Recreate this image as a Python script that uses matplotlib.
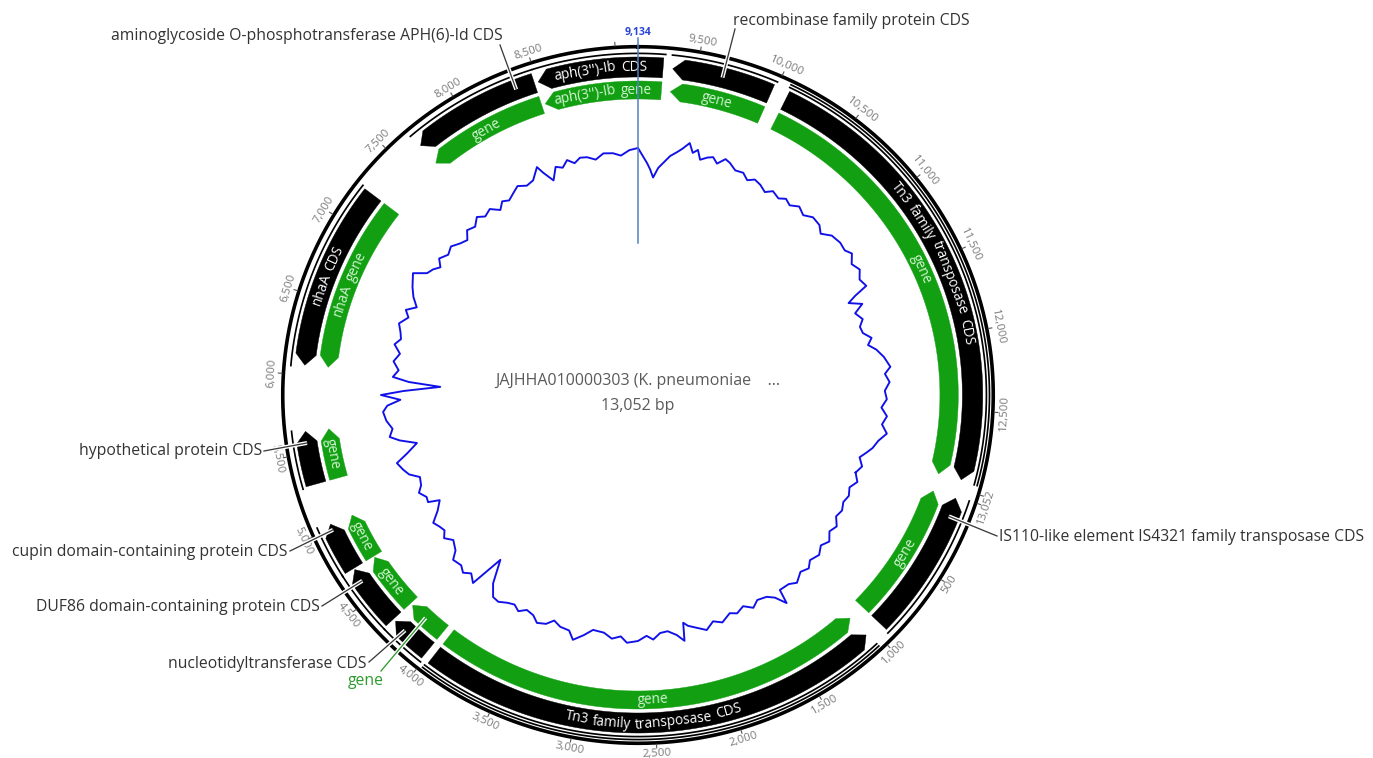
import numpy as np
import matplotlib
matplotlib.use("Agg")
import matplotlib.pyplot as plt
from matplotlib.patches import Polygon
from matplotlib.font_manager import FontProperties

# ---------------- data ----------------
SEQ_LEN = 13052
MARKER_POS = 9134
MAP_TITLE = "JAJHHA010000303 (K. pneumoniae    ..."
MAP_SUBTITLE = "13,052 bp"

cds_label = ["IS110-like element IS4321 family transposase CDS",
             "Tn3 family transposase CDS",
             "nucleotidyltransferase CDS",
             "DUF86 domain-containing protein CDS",
             "cupin domain-containing protein CDS",
             "hypothetical protein CDS",
             "nhaA CDS",
             "aminoglycoside O-phosphotransferase APH(6)-Id CDS",
             "aph(3'')-Ib CDS",
             "recombinase family protein CDS",
             "Tn3 family transposase CDS"]
cds_start = [10, 1050, 4018, 4310, 4715, 5300, 6060, 7665, 8505, 9350, 10080]
cds_end = [937, 3968, 4291, 4705, 5030, 5640, 7234, 8480, 9290, 9980, 12940]
cds_strand = [-1, -1, 1, 1, 1, 1, -1, -1, -1, -1, 1]
cds_inner_text = [None, "Tn3 family transposase CDS", None, None, None, None,
                  "nhaA CDS", None, "aph(3'')-Ib CDS", None, "Tn3 family transposase CDS"]
gene_inner_text = ["gene", "gene", None, "gene", "gene", "gene", "nhaA gene",
                   "gene", "aph(3'')-Ib gene", "gene", "gene"]
double_line_cds = [1, 10]

callout_text = ["aminoglycoside O-phosphotransferase APH(6)-Id CDS",
                "recombinase family protein CDS",
                "IS110-like element IS4321 family transposase CDS",
                "nucleotidyltransferase CDS",
                "gene",
                "DUF86 domain-containing protein CDS",
                "cupin domain-containing protein CDS",
                "hypothetical protein CDS"]
callout_pos = [8360, 9664, 132, 4208, 4169, 4620, 4991, 5566]
callout_track = ["cds", "cds", "cds", "cds", "gene", "cds", "cds", "cds"]

gc_pos = [9134, 9170, 9214, 9243, 9275, 9315, 9352, 9406, 9460, 9497,
          9547, 9587, 9623, 9660, 9714, 9758, 9805, 9859, 9903, 9968,
          10037, 10095, 10149, 10211, 10276, 10330, 10403, 10457, 10515, 10584,
          10657, 10729, 10813, 10874, 10947, 11037, 11110, 11164, 11237, 11309,
          11382, 11454, 11491, 11527, 11581, 11636, 11708, 11766, 11828, 11889,
          11944, 11998, 12071, 12161, 12216, 12288, 12361, 12433, 12506, 12578,
          12651, 12723, 12796, 12868, 12923, 12977, 13050, 70, 143, 215,
          288, 360, 433, 505, 578, 650, 723, 795, 868, 955,
          1013, 1085, 1169, 1230, 1321, 1339, 1393, 1448, 1531, 1593,
          1665, 1738, 1796, 1883, 1955, 2028, 2100, 2173, 2209, 2227,
          2282, 2354, 2419, 2481, 2536, 2608, 2699, 2753, 2826, 2898,
          2993, 3061, 3138, 3188, 3268, 3333, 3388, 3460, 3514, 3583,
          3641, 3696, 3754, 3823, 3881, 3950, 4033, 4084, 4149, 4203,
          4258, 4298, 4338, 4385, 4468, 4530, 4584, 4638, 4693, 4765,
          4841, 4874, 4921, 4983, 5037, 5110, 5164, 5219, 5288, 5345,
          5418, 5472, 5516, 5581, 5654, 5730, 5781, 5828, 5871, 5907,
          5958, 5991, 6027, 6089, 6161, 6234, 6306, 6361, 6415, 6487,
          6560, 6614, 6669, 6741, 6814, 6919, 6977, 7031, 7082, 7140,
          7213, 7285, 7358, 7423, 7485, 7557, 7626, 7684, 7756, 7825,
          7883, 7938, 8003, 8065, 8137, 8206, 8282, 8311, 8369, 8427,
          8482, 8536, 8590, 8645, 8703, 8772, 8844, 8924, 8989, 9062]
gc_val = [54.4, 53.0, 51.4, 50.2, 48.6, 50.6, 51.6, 53.2, 54.2, 55.0,
          56.4, 54.6, 55.4, 53.6, 54.4, 54.8, 53.8, 55.2, 54.8, 53.8,
          54.0, 53.0, 53.8, 53.4, 52.6, 53.6, 53.0, 53.8, 53.2, 54.2,
          53.4, 54.4, 54.2, 53.2, 54.6, 55.0, 54.8, 55.6, 54.4, 55.2,
          54.2, 54.8, 52.0, 50.2, 52.6, 50.6, 51.6, 50.6, 50.8, 52.2,
          51.2, 52.6, 53.8, 54.8, 53.6, 54.4, 53.4, 53.8, 52.8, 54.0,
          53.2, 54.4, 53.0, 52.2, 51.2, 50.2, 51.2, 50.4, 51.4, 50.4,
          51.0, 50.6, 51.2, 50.8, 52.0, 51.4, 52.6, 51.8, 52.8, 52.2,
          53.2, 52.6, 53.8, 53.0, 52.9, 55.8, 53.6, 52.6, 52.2, 53.2,
          52.0, 52.8, 52.2, 53.4, 52.6, 53.9, 53.0, 52.2, 51.4, 55.0,
          53.6, 52.6, 52.8, 54.0, 53.2, 54.2, 54.6, 53.4, 54.0, 53.0,
          52.8, 54.2, 55.6, 54.0, 53.8, 53.0, 54.2, 54.7, 53.6, 53.2,
          54.2, 53.4, 53.8, 54.6, 54.4, 52.2, 47.6, 54.6, 53.4, 54.4,
          53.6, 53.8, 54.0, 52.4, 51.4, 52.6, 51.6, 52.0, 52.6, 50.6,
          49.2, 51.4, 51.2, 52.2, 51.2, 50.8, 52.6, 53.4, 54.2, 51.8,
          49.4, 52.6, 54.4, 53.6, 54.6, 55.1, 54.2, 51.6, 55.4, 51.0,
          43.8, 50.0, 53.2, 52.2, 53.4, 52.4, 53.8, 52.8, 53.2, 54.0,
          52.6, 53.6, 51.8, 53.2, 54.2, 55.4, 53.0, 52.4, 51.4, 52.6,
          51.6, 52.2, 51.2, 50.6, 52.0, 51.4, 52.6, 51.6, 52.2, 50.8,
          52.0, 51.4, 52.2, 53.0, 52.2, 52.6, 54.7, 53.2, 51.0, 53.4,
          52.8, 54.0, 53.0, 53.8, 53.6, 52.8, 53.8, 53.6, 53.0, 54.0]
TICK_STEP = 500

# ---------------- layout / style ----------------
W, H = 1373, 758
CX, CY = 638, 395
SX = 1.02
R_BACKBONE = 348.3
R_THIN1 = 341.6
R_THIN2 = 344.6
R_CDS = (318.0, 338.0)
R_GENE = (296.0, 314.0)
GC_BASE_R, GC_MID, GC_SCALE = 240.0, 53.0, 5.0
HEAD_PX = 11.0
CDS_COLOR = "#000000"
GENE_COLOR = "#12a012"
GC_COLOR = "#1010e8"
FONT = "Open Sans"

callout_xy = [(503, 36), (733, 21), (999, 537), (367, 664), (366, 681),
              (320, 607), (288, 552), (262, 451)]
callout_ha = ["right", "left", "left", "right", "center", "right", "right", "right"]
callout_from = [(500, 45), (735, 29), (997, 536), (369, 662), (381, 671),
                (322, 606), (290, 551), (264, 451)]

fig = plt.figure(figsize=(W / 100, H / 100), dpi=100)
ax = fig.add_axes([0, 0, 1, 1])
ax.set_xlim(0, W)
ax.set_ylim(H, 0)
ax.axis("off")
renderer = fig.canvas.get_renderer()


def px2pt(px):
    return px * 0.72


def theta(pos):
    return (np.asarray(pos, dtype=float) - MARKER_POS) / SEQ_LEN * 2 * np.pi


def to_xy(th, r):
    th = np.asarray(th, dtype=float)
    return CX + SX * r * np.sin(th), CY - r * np.cos(th)


def arc_line(p0, p1, r, lw_px, color, z=2):
    t0, t1 = theta(p0), theta(p1)
    n = max(3, int(abs(t1 - t0) * 180 / np.pi * 3))
    th = np.linspace(t0, t1, n)
    x, y = to_xy(th, r)
    ax.plot(x, y, color=color, lw=px2pt(lw_px), solid_capstyle="butt", zorder=z)


def feature_patch(start, end, rr, strand, color, z=3):
    r_in, r_out = rr
    r_mid = (r_in + r_out) / 2
    t0, t1 = float(theta(start)), float(theta(end))
    head = min(HEAD_PX / r_mid, (t1 - t0) * 0.6)

    def arcpts(a, b, r):
        n = max(3, int(abs(b - a) * 180 / np.pi * 3))
        th = np.linspace(a, b, n)
        x, y = to_xy(th, r)
        return list(zip(x, y))
    if strand > 0:
        tb = t1 - head
        pts = arcpts(t0, tb, r_out) + [tuple(to_xy(t1, r_mid))] + arcpts(tb, t0, r_in)
    else:
        tb = t0 + head
        pts = [tuple(to_xy(t0, r_mid))] + arcpts(tb, t1, r_out) + arcpts(t1, tb, r_in)
    ax.add_patch(Polygon(pts, closed=True, facecolor=color, edgecolor=color,
                         lw=0.3, zorder=z))


def text_w(s, fp):
    w, _, _ = renderer.get_text_width_height_descent(s, fp, False)
    return w


def curved_text(s, pos_mid, r_mid, fs, color):
    """Place text along the arc word by word (each word tangent at its centre)."""
    fp = FontProperties(family=FONT, size=fs)
    th_mid = float(theta(pos_mid)) % (2 * np.pi)
    bottom = np.pi / 2 < th_mid < 3 * np.pi / 2
    words = s.split(" ")
    ww = [text_w(w, fp) for w in words]
    space = 0.26 * fs / 0.72
    total = sum(ww) + space * (len(words) - 1)
    fs_px = fs / 0.72
    off = 0.30 * fs_px
    r_base = r_mid + off if bottom else r_mid - off
    sign = -1 if bottom else 1
    cur = -total / 2
    for w, wdt in zip(words, ww):
        wc = cur + wdt / 2
        thc = th_mid + sign * wc / r_base
        x, y = to_xy(thc, r_base)
        rot = 180 - np.degrees(thc) if bottom else -np.degrees(thc)
        ax.text(x, y, w, rotation=rot, rotation_mode="anchor", ha="center",
                va="baseline", fontproperties=fp, color=color, zorder=6)
        cur += wdt + space


# backbone
th_all = np.linspace(0, 2 * np.pi, 1500)
bx, by = to_xy(th_all, R_BACKBONE)
ax.plot(bx, by, color="black", lw=px2pt(3.6), zorder=2)

# thin lines and features
for i in range(len(cds_start)):
    arc_line(cds_start[i] - 15, cds_end[i] + 15, R_THIN1, 1.7, "black")
    if i in double_line_cds:
        arc_line(cds_start[i] - 15, cds_end[i] + 15, R_THIN2, 1.7, "black")
    feature_patch(cds_start[i], cds_end[i], R_CDS, cds_strand[i], CDS_COLOR)
    feature_patch(cds_start[i], cds_end[i], R_GENE, cds_strand[i], GENE_COLOR)
    mid = (cds_start[i] + cds_end[i]) / 2
    if cds_inner_text[i]:
        curved_text(cds_inner_text[i], mid, sum(R_CDS) / 2, 9.8, "white")
    if gene_inner_text[i]:
        curved_text(gene_inner_text[i], mid, sum(R_GENE) / 2, 9.8, "#d4f4d4")

# GC content line
order = np.argsort(gc_pos)
gp = np.array(gc_pos, dtype=float)[order]
gv = np.array(gc_val, dtype=float)[order]
gr = GC_BASE_R + (gv - GC_MID) * GC_SCALE
gx, gy = to_xy(theta(gp), gr)
gx = np.append(gx, gx[0])
gy = np.append(gy, gy[0])
ax.plot(gx, gy, color=GC_COLOR, lw=px2pt(1.9), zorder=4)

# ticks
tick_fp = FontProperties(family=FONT, size=8.2)
for p in range(0, SEQ_LEN, TICK_STEP):
    th = float(theta(p))
    x0, y0 = to_xy(th, R_BACKBONE + 1.5)
    x1, y1 = to_xy(th, R_BACKBONE + 5)
    ax.plot([x0, x1], [y0, y1], color="#555555", lw=0.8, zorder=2)
    if p in (9000, 13000):
        continue
    lab = f"{SEQ_LEN:,}" if p == 0 else f"{p:,}"
    thm = th % (2 * np.pi)
    bottom = np.pi / 2 < thm < 3 * np.pi / 2
    rot = 180 - np.degrees(thm) if bottom else -np.degrees(thm)
    tx, ty = to_xy(th, R_BACKBONE + 11)
    ax.text(tx, ty, lab, rotation=rot, rotation_mode="anchor", ha="center",
            va="center", fontproperties=tick_fp, color="#7a7a7a", zorder=5)

# marker line
mx0, my0 = to_xy(0.0, 152)
mx1, my1 = to_xy(0.0, 357)
ax.plot([mx0, mx1], [my0, my1], color="#4f7dc4", lw=px2pt(1.5), zorder=7)
ax.text(mx1, 32, f"{MARKER_POS:,}", ha="center", va="center", color="#2a44d8",
        fontproperties=FontProperties(family=FONT, size=7.5, weight="bold"), zorder=7)

# callouts
lab_fp = FontProperties(family=FONT, size=11.3)
for i, txt in enumerate(callout_text):
    rr = R_CDS if callout_track[i] == "cds" else R_GENE
    ex, ey = to_xy(theta(callout_pos[i]), sum(rr) / 2)
    sx_, sy_ = callout_from[i]
    col = "#2e9a2e" if callout_track[i] == "gene" else "#333333"
    ax.plot([sx_, ex], [sy_, ey], color="white", lw=px2pt(4.0), zorder=8,
            solid_capstyle="butt")
    ax.plot([sx_, ex], [sy_, ey], color=col if col != "#333333" else "#3a3a3a",
            lw=px2pt(1.3), zorder=9)
    tx, ty = callout_xy[i]
    ax.text(tx, ty, txt, ha=callout_ha[i], va="center", fontproperties=lab_fp,
            color=col, zorder=9)

# centre text
cfp = FontProperties(family=FONT, size=11.5)
ax.text(CX, 381, MAP_TITLE, ha="center", va="center", fontproperties=cfp, color="#5a5a5a")
ax.text(CX, 406, MAP_SUBTITLE, ha="center", va="center", fontproperties=cfp, color="#5a5a5a")

fig.savefig("out.png", dpi=100, facecolor="white")
